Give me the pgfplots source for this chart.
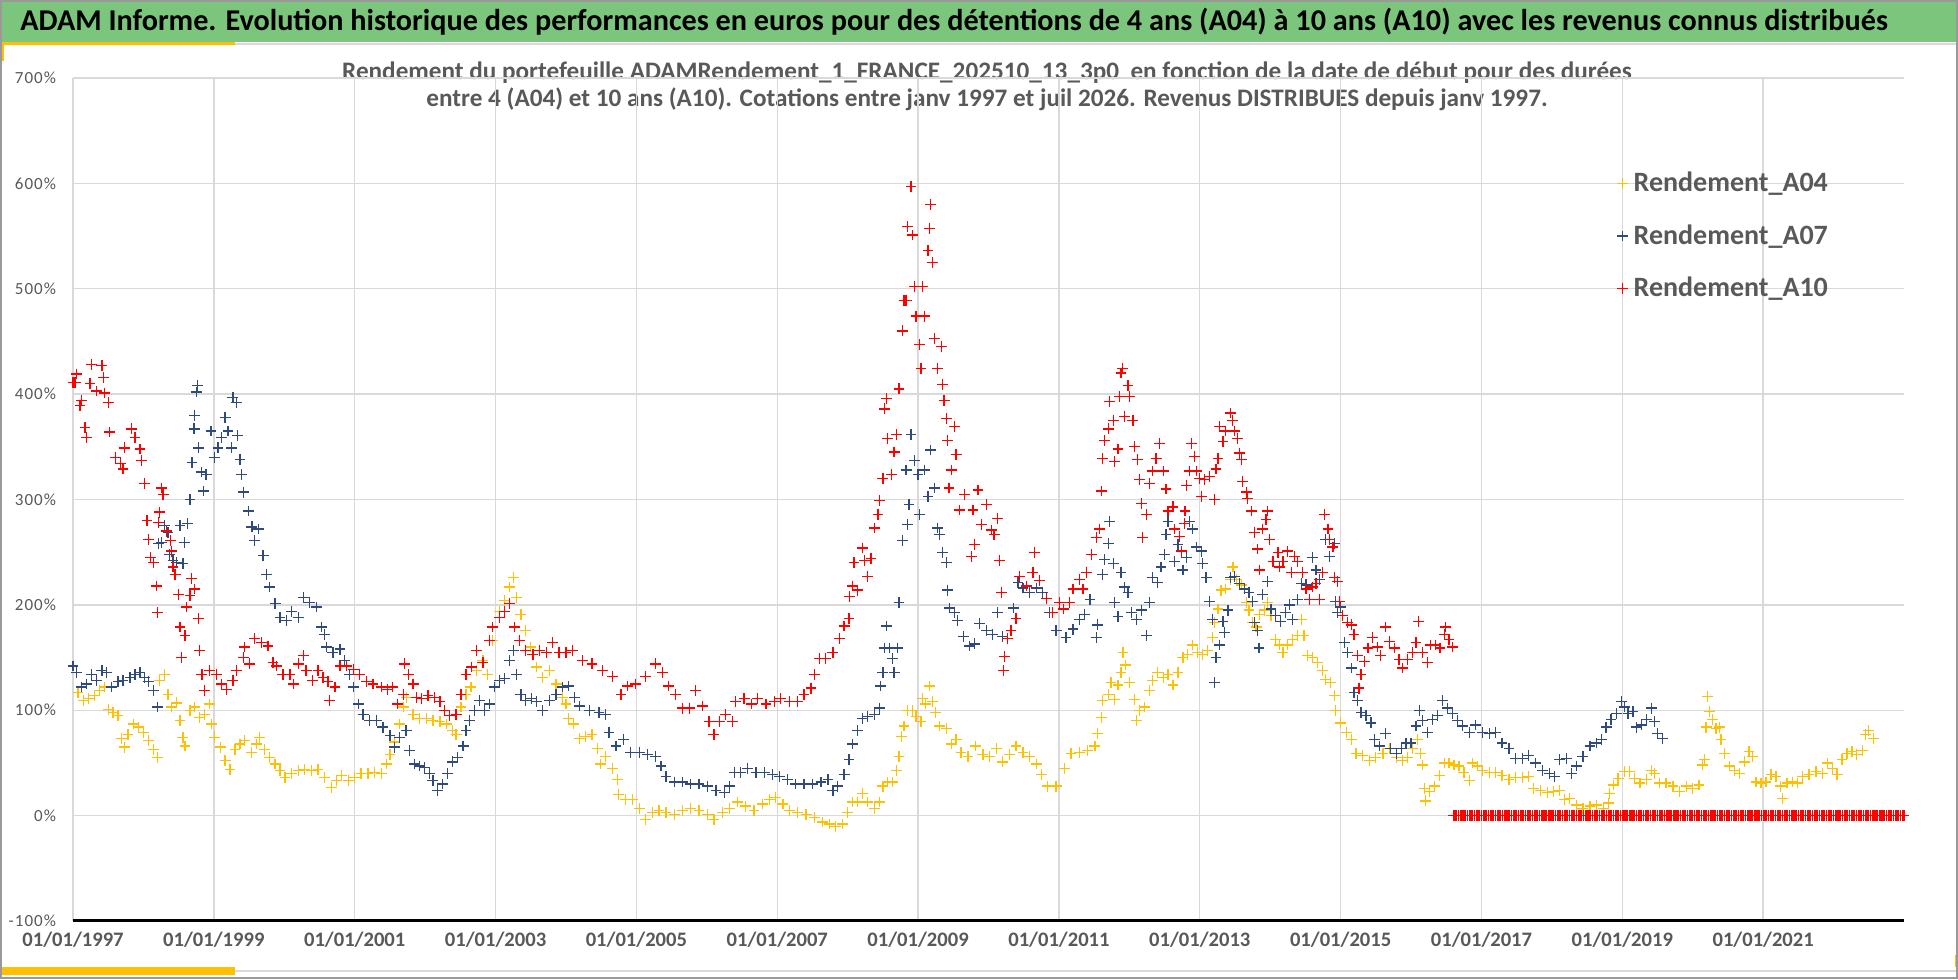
\documentclass[border=0pt]{standalone}
\usepackage{pgfplots}
\pgfplotsset{compat=1.18}
\usepackage{pgfplotstable}
\usepackage{fontspec}
\setmainfont{Carlito}
\definecolor{cA}{RGB}{255,192,0}
\definecolor{cB}{RGB}{47,74,124}
\definecolor{cC}{RGB}{255,0,0}
\definecolor{txt}{RGB}{89,89,89}
\definecolor{ban}{RGB}{124,197,124}
\definecolor{gold}{RGB}{255,192,0}
\definecolor{grd}{RGB}{217,217,217}

\pgfplotstableread{
x y
1997.00 142
1997.07 117
1997.15 109
1997.22 111
1997.31 114
1997.38 119
1997.45 122
1997.50 101
1997.57 98
1997.64 95
1997.69 73
1997.73 65
1997.78 77
1997.86 87
1997.93 84
1998.00 79
1998.07 71
1998.14 63
1998.20 55
1998.23 128
1998.30 134
1998.35 115
1998.40 103
1998.47 107
1998.52 90
1998.56 74
1998.59 66
1998.66 100
1998.73 103
1998.80 93
1998.87 96
1998.94 106
1998.97 87
1999.01 74
1999.09 65
1999.16 52
1999.23 44
1999.30 63
1999.37 68
1999.44 71
1999.53 60
1999.61 68
1999.65 74
1999.72 63
1999.79 55
1999.87 49
1999.94 43
2000.01 36
2000.10 40
2000.20 43
2000.29 44
2000.39 43
2000.48 44
2000.57 36
2000.67 27
2000.74 33
2000.81 38
2000.91 33
2001.00 36
2001.09 40
2001.19 40
2001.28 41
2001.38 40
2001.45 49
2001.50 58
2001.57 70
2001.64 87
2001.69 103
2001.74 112
2001.83 96
2001.92 92
2002.02 92
2002.11 90
2002.21 89
2002.30 87
2002.39 81
2002.44 77
2002.51 103
2002.58 115
2002.65 122
2002.73 138
2002.82 147
2002.89 134
2002.96 166
2003.06 194
2003.13 204
2003.20 217
2003.25 226
2003.30 207
2003.36 191
2003.43 176
2003.50 160
2003.58 141
2003.67 131
2003.77 138
2003.86 125
2003.95 112
2004.00 106
2004.04 92
2004.11 87
2004.19 73
2004.28 75
2004.37 77
2004.45 64
2004.49 49
2004.56 56
2004.66 45
2004.73 34
2004.75 20
2004.85 15
2004.94 15
2005.04 7
2005.13 -4
2005.23 3
2005.32 5
2005.42 3
2005.54 1
2005.65 5
2005.77 7
2005.89 5
2006.01 1
2006.10 -4
2006.22 3
2006.32 7
2006.44 13
2006.55 9
2006.67 5
2006.79 11
2006.89 15
2006.98 17
2007.08 11
2007.17 5
2007.29 3
2007.41 1
2007.53 -2
2007.64 -6
2007.74 -8
2007.83 -10
2007.93 -8
2008.00 3
2008.07 13
2008.14 13
2008.21 21
2008.28 13
2008.38 7
2008.45 13
2008.50 28
2008.57 32
2008.64 32
2008.69 43
2008.73 56
2008.76 75
2008.80 85
2008.85 100
2008.92 100
2008.97 94
2009.04 89
2009.06 111
2009.11 106
2009.16 123
2009.20 108
2009.25 98
2009.30 85
2009.40 83
2009.47 68
2009.54 72
2009.61 60
2009.71 56
2009.82 66
2009.92 58
2010.01 56
2010.11 64
2010.20 51
2010.30 58
2010.39 66
2010.49 60
2010.58 56
2010.68 49
2010.75 39
2010.84 28
2010.96 28
2011.08 45
2011.17 59
2011.29 60
2011.41 62
2011.51 66
2011.55 78
2011.60 93
2011.62 109
2011.70 115
2011.74 126
2011.79 110
2011.84 124
2011.88 136
2011.91 155
2011.95 143
2012.00 126
2012.07 110
2012.10 90
2012.14 100
2012.21 103
2012.29 119
2012.33 128
2012.40 136
2012.48 131
2012.55 134
2012.62 124
2012.69 136
2012.76 150
2012.83 153
2012.90 162
2012.97 155
2013.04 153
2013.11 157
2013.18 169
2013.21 183
2013.26 196
2013.30 214
2013.37 215
2013.44 224
2013.47 236
2013.52 224
2013.59 219
2013.66 202
2013.70 195
2013.75 183
2013.80 179
2013.85 191
2013.92 195
2013.96 202
2014.01 190
2014.08 167
2014.13 162
2014.18 155
2014.25 162
2014.32 167
2014.39 171
2014.44 186
2014.48 171
2014.53 152
2014.60 150
2014.67 145
2014.74 138
2014.79 129
2014.86 126
2014.91 114
2014.93 100
2015.00 88
2015.08 79
2015.15 72
2015.22 59
2015.31 57
2015.41 52
2015.50 55
2015.60 59
2015.69 64
2015.79 55
2015.88 52
2015.95 55
2016.02 64
2016.09 72
2016.13 59
2016.16 48
2016.19 26
2016.21 14
2016.26 23
2016.33 28
2016.40 38
2016.47 50
2016.54 50
2016.61 48
2016.68 47
2016.75 41
2016.83 33
2016.87 50
2016.94 47
2017.01 43
2017.11 41
2017.20 41
2017.29 38
2017.39 34
2017.48 36
2017.58 36
2017.67 37
2017.74 26
2017.84 24
2017.94 22
2018.02 23
2018.11 24
2018.18 15
2018.25 16
2018.35 10
2018.44 7
2018.54 9
2018.63 10
2018.73 7
2018.80 12
2018.82 21
2018.87 29
2018.94 35
2019.03 42
2019.10 42
2019.17 35
2019.25 31
2019.34 34
2019.41 43
2019.46 40
2019.53 31
2019.62 31
2019.72 28
2019.81 23
2019.91 28
2020.00 26
2020.09 29
2020.14 48
2020.17 53
2020.19 84
2020.21 113
2020.24 99
2020.28 91
2020.33 83
2020.38 84
2020.40 72
2020.45 59
2020.52 47
2020.59 43
2020.66 40
2020.73 51
2020.80 61
2020.85 56
2020.90 32
2020.97 31
2021.04 32
2021.11 39
2021.18 37
2021.25 28
2021.27 16
2021.34 31
2021.42 32
2021.49 31
2021.56 37
2021.65 39
2021.75 42
2021.84 40
2021.91 50
2021.98 45
2022.05 39
2022.12 53
2022.19 59
2022.26 61
2022.33 58
2022.41 62
2022.45 77
2022.50 81
2022.57 73
}\tA

\pgfplotstableread{
x y
1997.00 142
1997.05 136
1997.12 122
1997.19 125
1997.26 134
1997.33 128
1997.41 138
1997.48 136
1997.55 122
1997.64 127
1997.71 128
1997.81 131
1997.88 134
1997.95 136
1998.02 131
1998.07 127
1998.14 119
1998.20 103
1998.21 258
1998.26 259
1998.30 275
1998.35 269
1998.37 248
1998.42 242
1998.47 240
1998.52 275
1998.56 239
1998.58 259
1998.63 277
1998.66 300
1998.69 335
1998.72 367
1998.73 380
1998.75 402
1998.77 408
1998.78 349
1998.82 326
1998.85 308
1998.89 324
1998.96 365
1999.01 340
1999.06 349
1999.11 359
1999.16 378
1999.20 365
1999.25 349
1999.27 397
1999.32 392
1999.34 361
1999.37 338
1999.39 324
1999.42 307
1999.49 289
1999.54 274
1999.58 261
1999.63 272
1999.70 247
1999.75 229
1999.79 217
1999.87 201
1999.94 188
2000.03 185
2000.10 194
2000.20 188
2000.27 207
2000.36 202
2000.46 198
2000.53 179
2000.57 172
2000.60 160
2000.69 155
2000.79 158
2000.86 147
2000.93 134
2000.98 122
2001.05 106
2001.12 96
2001.21 90
2001.31 90
2001.40 84
2001.50 76
2001.57 65
2001.64 74
2001.73 81
2001.78 62
2001.85 49
2001.92 47
2001.99 46
2002.06 40
2002.11 33
2002.18 24
2002.25 30
2002.32 40
2002.39 51
2002.46 55
2002.54 66
2002.58 81
2002.63 90
2002.70 100
2002.77 109
2002.84 100
2002.91 106
2002.99 122
2003.06 128
2003.13 130
2003.20 147
2003.25 157
2003.30 134
2003.36 115
2003.43 109
2003.51 111
2003.58 108
2003.67 100
2003.77 109
2003.86 115
2003.95 122
2004.04 123
2004.12 112
2004.19 104
2004.33 100
2004.47 98
2004.56 96
2004.61 79
2004.71 66
2004.82 72
2004.92 60
2005.04 60
2005.16 58
2005.27 56
2005.35 47
2005.42 37
2005.54 32
2005.65 32
2005.77 30
2005.89 30
2006.01 28
2006.13 24
2006.25 22
2006.32 28
2006.39 41
2006.48 41
2006.58 45
2006.70 41
2006.82 41
2006.93 39
2007.03 37
2007.15 34
2007.26 30
2007.38 30
2007.50 30
2007.62 32
2007.72 34
2007.79 24
2007.86 28
2007.95 39
2008.02 53
2008.07 68
2008.14 81
2008.21 92
2008.28 94
2008.38 96
2008.45 102
2008.47 123
2008.50 136
2008.52 159
2008.55 180
2008.59 159
2008.64 149
2008.66 136
2008.71 159
2008.73 202
2008.78 261
2008.83 328
2008.85 276
2008.87 295
2008.90 362
2008.95 337
2009.00 324
2009.02 286
2009.09 328
2009.14 303
2009.18 347
2009.23 311
2009.28 273
2009.30 267
2009.35 250
2009.40 240
2009.42 214
2009.45 197
2009.52 193
2009.56 185
2009.64 170
2009.73 161
2009.80 163
2009.87 182
2009.97 176
2010.06 172
2010.13 193
2010.20 170
2010.27 168
2010.35 197
2010.42 221
2010.49 216
2010.58 212
2010.68 216
2010.77 212
2010.87 193
2010.96 176
2011.10 169
2011.20 177
2011.29 186
2011.36 191
2011.44 205
2011.53 169
2011.55 181
2011.62 229
2011.65 243
2011.70 258
2011.72 279
2011.77 239
2011.79 202
2011.84 189
2011.88 231
2011.93 217
2011.98 212
2012.03 193
2012.10 186
2012.17 195
2012.24 171
2012.29 202
2012.33 226
2012.40 221
2012.45 236
2012.50 248
2012.52 267
2012.55 279
2012.64 241
2012.69 257
2012.76 233
2012.81 245
2012.85 279
2012.90 272
2012.95 255
2013.02 251
2013.04 239
2013.09 226
2013.14 203
2013.18 186
2013.21 126
2013.23 150
2013.28 162
2013.33 184
2013.35 174
2013.40 195
2013.44 226
2013.49 227
2013.56 220
2013.63 215
2013.70 212
2013.75 203
2013.78 183
2013.82 176
2013.84 159
2013.89 210
2013.96 222
2014.01 196
2014.08 190
2014.15 184
2014.22 193
2014.27 200
2014.32 186
2014.39 205
2014.44 220
2014.51 219
2014.60 245
2014.65 233
2014.70 224
2014.74 231
2014.79 262
2014.84 246
2014.91 258
2014.93 203
2014.96 193
2015.00 198
2015.05 164
2015.10 155
2015.15 140
2015.19 117
2015.24 109
2015.29 98
2015.36 95
2015.43 88
2015.48 72
2015.55 66
2015.64 78
2015.71 64
2015.79 59
2015.86 64
2015.93 69
2016.00 69
2016.07 85
2016.12 100
2016.16 90
2016.23 79
2016.30 91
2016.38 95
2016.45 109
2016.52 102
2016.59 97
2016.66 90
2016.73 85
2016.83 79
2016.92 86
2017.01 79
2017.11 78
2017.20 79
2017.29 69
2017.39 64
2017.48 54
2017.58 54
2017.67 57
2017.77 50
2017.87 43
2017.97 40
2018.04 37
2018.11 53
2018.21 54
2018.28 40
2018.35 47
2018.44 56
2018.54 66
2018.63 69
2018.70 72
2018.77 84
2018.84 91
2018.92 97
2018.99 108
2019.03 103
2019.08 97
2019.15 99
2019.20 84
2019.27 86
2019.34 91
2019.41 102
2019.46 89
2019.50 78
2019.57 73
}\tB

\pgfplotstableread{
x y
1997.00 411
1997.03 411
1997.05 419
1997.10 389
1997.12 394
1997.17 368
1997.19 359
1997.24 410
1997.26 428
1997.33 403
1997.41 427
1997.43 416
1997.45 401
1997.50 392
1997.52 364
1997.60 340
1997.67 334
1997.71 329
1997.73 349
1997.83 367
1997.88 359
1997.95 348
1997.97 337
1998.02 315
1998.05 280
1998.07 262
1998.10 245
1998.14 240
1998.19 218
1998.20 193
1998.21 278
1998.23 288
1998.26 311
1998.28 305
1998.33 270
1998.38 261
1998.40 251
1998.42 236
1998.45 229
1998.50 210
1998.52 179
1998.54 150
1998.59 171
1998.61 198
1998.66 209
1998.68 225
1998.73 215
1998.78 187
1998.80 157
1998.83 134
1998.87 119
1998.94 138
1999.04 134
1999.11 125
1999.18 120
1999.27 128
1999.32 138
1999.42 150
1999.44 160
1999.51 144
1999.58 168
1999.68 164
1999.77 161
1999.84 145
1999.89 142
1999.98 134
2000.08 134
2000.13 125
2000.20 144
2000.27 152
2000.31 138
2000.40 128
2000.48 138
2000.55 131
2000.62 127
2000.64 109
2000.72 122
2000.79 142
2000.88 142
2000.98 139
2001.07 134
2001.17 127
2001.26 125
2001.38 122
2001.47 120
2001.54 122
2001.61 106
2001.69 115
2001.71 144
2001.76 134
2001.83 125
2001.88 112
2001.95 111
2002.04 114
2002.13 112
2002.21 108
2002.28 100
2002.35 95
2002.44 96
2002.51 115
2002.58 134
2002.66 141
2002.73 157
2002.82 145
2002.91 166
2002.96 179
2003.06 188
2003.13 194
2003.20 201
2003.27 179
2003.34 166
2003.43 157
2003.53 153
2003.62 157
2003.72 155
2003.81 164
2003.90 155
2004.00 155
2004.09 157
2004.23 147
2004.37 144
2004.52 138
2004.66 132
2004.78 115
2004.87 123
2004.99 125
2005.13 132
2005.27 144
2005.37 136
2005.46 123
2005.56 115
2005.65 102
2005.75 102
2005.84 119
2005.94 104
2006.03 89
2006.10 77
2006.18 89
2006.27 96
2006.36 89
2006.41 108
2006.53 111
2006.63 106
2006.72 111
2006.84 106
2006.96 108
2007.05 111
2007.17 108
2007.29 108
2007.38 115
2007.48 121
2007.53 134
2007.60 149
2007.69 149
2007.79 155
2007.88 168
2007.95 180
2008.02 187
2008.03 208
2008.07 218
2008.09 240
2008.14 214
2008.21 254
2008.24 242
2008.28 227
2008.33 244
2008.38 273
2008.43 286
2008.45 299
2008.50 320
2008.52 386
2008.55 396
2008.57 358
2008.62 324
2008.66 345
2008.69 362
2008.73 405
2008.78 460
2008.80 489
2008.83 489
2008.85 559
2008.90 597
2008.92 551
2008.95 502
2008.97 474
2009.02 447
2009.04 424
2009.06 502
2009.09 474
2009.14 536
2009.16 557
2009.18 580
2009.20 525
2009.23 453
2009.28 424
2009.33 445
2009.35 409
2009.37 394
2009.40 377
2009.42 356
2009.44 311
2009.47 328
2009.52 369
2009.54 343
2009.59 290
2009.66 305
2009.76 246
2009.78 290
2009.80 257
2009.85 309
2009.90 276
2009.97 295
2010.04 271
2010.08 267
2010.13 282
2010.16 242
2010.18 212
2010.21 138
2010.23 151
2010.27 168
2010.32 176
2010.39 187
2010.44 227
2010.54 218
2010.63 231
2010.65 250
2010.72 223
2010.82 206
2010.91 193
2011.01 202
2011.06 196
2011.15 202
2011.20 215
2011.29 224
2011.34 215
2011.39 231
2011.46 248
2011.53 264
2011.58 272
2011.60 308
2011.62 339
2011.65 356
2011.70 367
2011.72 393
2011.77 375
2011.79 336
2011.84 348
2011.86 398
2011.88 420
2011.90 424
2011.93 379
2011.98 408
2012.00 398
2012.05 375
2012.07 350
2012.12 338
2012.14 319
2012.17 296
2012.19 264
2012.24 286
2012.29 315
2012.33 327
2012.38 339
2012.43 353
2012.48 327
2012.52 310
2012.55 289
2012.62 293
2012.64 272
2012.71 265
2012.74 251
2012.78 277
2012.79 289
2012.81 313
2012.85 327
2012.88 353
2012.92 341
2012.95 327
2013.00 320
2013.02 303
2013.07 319
2013.14 322
2013.21 300
2013.23 329
2013.26 339
2013.28 369
2013.33 355
2013.37 365
2013.44 382
2013.46 375
2013.49 365
2013.54 358
2013.56 344
2013.59 338
2013.61 317
2013.66 307
2013.68 301
2013.73 289
2013.78 269
2013.82 253
2013.85 233
2013.89 272
2013.94 281
2013.96 289
2013.99 262
2014.04 241
2014.11 250
2014.13 236
2014.18 241
2014.25 251
2014.30 231
2014.34 246
2014.39 241
2014.46 231
2014.51 215
2014.56 205
2014.60 217
2014.65 220
2014.70 205
2014.74 231
2014.77 286
2014.82 272
2014.84 262
2014.89 255
2014.91 226
2014.96 222
2014.98 203
2015.03 190
2015.10 183
2015.15 181
2015.19 172
2015.24 152
2015.26 121
2015.29 134
2015.34 146
2015.39 159
2015.45 169
2015.52 160
2015.57 152
2015.64 179
2015.69 165
2015.76 159
2015.83 148
2015.88 140
2015.95 148
2016.02 155
2016.07 164
2016.11 184
2016.16 155
2016.23 145
2016.28 162
2016.35 162
2016.41 159
2016.47 172
2016.49 179
2016.54 167
2016.59 160
2016.600 0
2016.625 0
2016.650 0
2016.675 0
2016.700 0
2016.725 0
2016.750 0
2016.775 0
2016.800 0
2016.825 0
2016.850 0
2016.875 0
2016.900 0
2016.925 0
2016.950 0
2016.975 0
2017.000 0
2017.025 0
2017.050 0
2017.075 0
2017.100 0
2017.125 0
2017.150 0
2017.175 0
2017.200 0
2017.225 0
2017.250 0
2017.275 0
2017.300 0
2017.325 0
2017.350 0
2017.375 0
2017.400 0
2017.425 0
2017.450 0
2017.475 0
2017.500 0
2017.525 0
2017.550 0
2017.575 0
2017.600 0
2017.625 0
2017.650 0
2017.675 0
2017.700 0
2017.725 0
2017.750 0
2017.775 0
2017.800 0
2017.825 0
2017.850 0
2017.875 0
2017.900 0
2017.925 0
2017.950 0
2017.975 0
2018.000 0
2018.025 0
2018.050 0
2018.075 0
2018.100 0
2018.125 0
2018.150 0
2018.175 0
2018.200 0
2018.225 0
2018.250 0
2018.275 0
2018.300 0
2018.325 0
2018.350 0
2018.375 0
2018.400 0
2018.425 0
2018.450 0
2018.475 0
2018.500 0
2018.525 0
2018.550 0
2018.575 0
2018.600 0
2018.625 0
2018.650 0
2018.675 0
2018.700 0
2018.725 0
2018.750 0
2018.775 0
2018.800 0
2018.825 0
2018.850 0
2018.875 0
2018.900 0
2018.925 0
2018.950 0
2018.975 0
2019.000 0
2019.025 0
2019.050 0
2019.075 0
2019.100 0
2019.125 0
2019.150 0
2019.175 0
2019.200 0
2019.225 0
2019.250 0
2019.275 0
2019.300 0
2019.325 0
2019.350 0
2019.375 0
2019.400 0
2019.425 0
2019.450 0
2019.475 0
2019.500 0
2019.525 0
2019.550 0
2019.575 0
2019.600 0
2019.625 0
2019.650 0
2019.675 0
2019.700 0
2019.725 0
2019.750 0
2019.775 0
2019.800 0
2019.825 0
2019.850 0
2019.875 0
2019.900 0
2019.925 0
2019.950 0
2019.975 0
2020.000 0
2020.025 0
2020.050 0
2020.075 0
2020.100 0
2020.125 0
2020.150 0
2020.175 0
2020.200 0
2020.225 0
2020.250 0
2020.275 0
2020.300 0
2020.325 0
2020.350 0
2020.375 0
2020.400 0
2020.425 0
2020.450 0
2020.475 0
2020.500 0
2020.525 0
2020.550 0
2020.575 0
2020.600 0
2020.625 0
2020.650 0
2020.675 0
2020.700 0
2020.725 0
2020.750 0
2020.775 0
2020.800 0
2020.825 0
2020.850 0
2020.875 0
2020.900 0
2020.925 0
2020.950 0
2020.975 0
2021.000 0
2021.025 0
2021.050 0
2021.075 0
2021.100 0
2021.125 0
2021.150 0
2021.175 0
2021.200 0
2021.225 0
2021.250 0
2021.275 0
2021.300 0
2021.325 0
2021.350 0
2021.375 0
2021.400 0
2021.425 0
2021.450 0
2021.475 0
2021.500 0
2021.525 0
2021.550 0
2021.575 0
2021.600 0
2021.625 0
2021.650 0
2021.675 0
2021.700 0
2021.725 0
2021.750 0
2021.775 0
2021.800 0
2021.825 0
2021.850 0
2021.875 0
2021.900 0
2021.925 0
2021.950 0
2021.975 0
2022.000 0
2022.025 0
2022.050 0
2022.075 0
2022.100 0
2022.125 0
2022.150 0
2022.175 0
2022.200 0
2022.225 0
2022.250 0
2022.275 0
2022.300 0
2022.325 0
2022.350 0
2022.375 0
2022.400 0
2022.425 0
2022.450 0
2022.475 0
2022.500 0
2022.525 0
2022.550 0
2022.575 0
2022.600 0
2022.625 0
2022.650 0
2022.675 0
2022.700 0
2022.725 0
2022.750 0
2022.775 0
2022.800 0
2022.825 0
2022.850 0
2022.875 0
2022.900 0
2022.925 0
2022.950 0
2022.975 0
2023.000 0
}\tC

\begin{document}
\begin{tikzpicture}
\useasboundingbox (0,0) rectangle (979pt,489.5pt);
\fill[white] (0,0) rectangle (979pt,489.5pt);
% banner
\fill[ban] (0,468.5pt) rectangle (979pt,489.5pt);
\node[anchor=west, inner sep=0pt, text=black] at (10pt,478.8pt)
  {\bfseries\fontsize{15.1}{17}\selectfont ADAM Informe. Evolution historique des performances en euros pour des détentions de 4 ans (A04) à 10 ans (A10) avec les revenus connus distribués};
\fill[gold] (0,466.8pt) rectangle (117.5pt,468.5pt);
\draw[grd, line width=0.8pt] (117.5pt,467.6pt) -- (979pt,467.6pt);
\fill[gold] (0,459pt) rectangle (2.2pt,467pt);
% bottom bars
\draw[grd, line width=0.8pt] (117.5pt,4pt) -- (978pt,4pt);
\fill[gold] (0,2pt) rectangle (117.5pt,6pt);
\fill[gold] (977.3pt,6pt) rectangle (979pt,12pt);
% subtitle
\node[align=center, inner sep=0pt, text=txt, font=\bfseries\fontsize{12.6}{12.8}\selectfont] at (493.5pt,446.3pt)
  {Rendement du portefeuille ADAMRendement\_1\_FRANCE\_202510\_13\_3p0\ \ en fonction de la date de début pour des durées\\[0.6pt]
   entre 4 (A04) et 10 ans (A10). Cotations entre janv 1997 et juil 2026. Revenus DISTRIBUES depuis janv 1997.};
\begin{axis}[
  at={(36.5pt,29pt)}, anchor=south west,
  scale only axis, width=915.5pt, height=421.5pt,
  xmin=1997, xmax=2023, ymin=-100, ymax=700,
  xtick={1997,1999,2001,2003,2005,2007,2009,2011,2013,2015,2017,2019,2021},
  xticklabels={01/01/1997,01/01/1999,01/01/2001,01/01/2003,01/01/2005,01/01/2007,01/01/2009,01/01/2011,01/01/2013,01/01/2015,01/01/2017,01/01/2019,01/01/2021},
  ytick={-100,0,100,200,300,400,500,600,700},
  yticklabels={-100\%,0\%,100\%,200\%,300\%,400\%,500\%,600\%,700\%},
  xmajorgrids, ymajorgrids,
  grid style={grd, line width=0.7pt},
  major tick length=0pt,
  axis x line*=bottom, axis y line*=left,
  x axis line style={black, line width=1.5pt, -},
  y axis line style={draw=none},
  xticklabel style={text=txt, font=\bfseries\fontsize{10.3}{12}\selectfont, yshift=-2pt},
  yticklabel style={text=txt, font=\fontsize{8.5}{10}\selectfont\addfontfeatures{LetterSpace=6}, xshift=-5pt},
  legend style={at={(0.838,0.8126)}, anchor=west, draw=none, fill=none,
    text=txt, font=\bfseries\fontsize{14}{16}\selectfont, row sep=13pt,
    nodes={inner sep=1pt}},
  legend cell align=left,
  legend image code/.code={\path (0,0) (0.3cm,0); \draw[#1] plot coordinates {(0.15cm,0cm)};},
  clip=false,
]
\addplot[only marks, mark=+, mark size=2.7pt, color=cA, mark options={line width=0.65pt}] table[x=x,y=y] {\tA};
\addlegendentry{Rendement\_A04}
\addplot[only marks, mark=+, mark size=2.7pt, color=cB, mark options={line width=0.65pt}] table[x=x,y=y] {\tB};
\addlegendentry{Rendement\_A07}
\addplot[only marks, mark=+, mark size=2.7pt, color=cC, mark options={line width=0.65pt}] table[x=x,y=y] {\tC};
\addlegendentry{Rendement\_A10}
\end{axis}
\draw[gray!80, line width=1pt] (0.5pt,0.5pt) rectangle (978.5pt,489pt);
\end{tikzpicture}
\end{document}
